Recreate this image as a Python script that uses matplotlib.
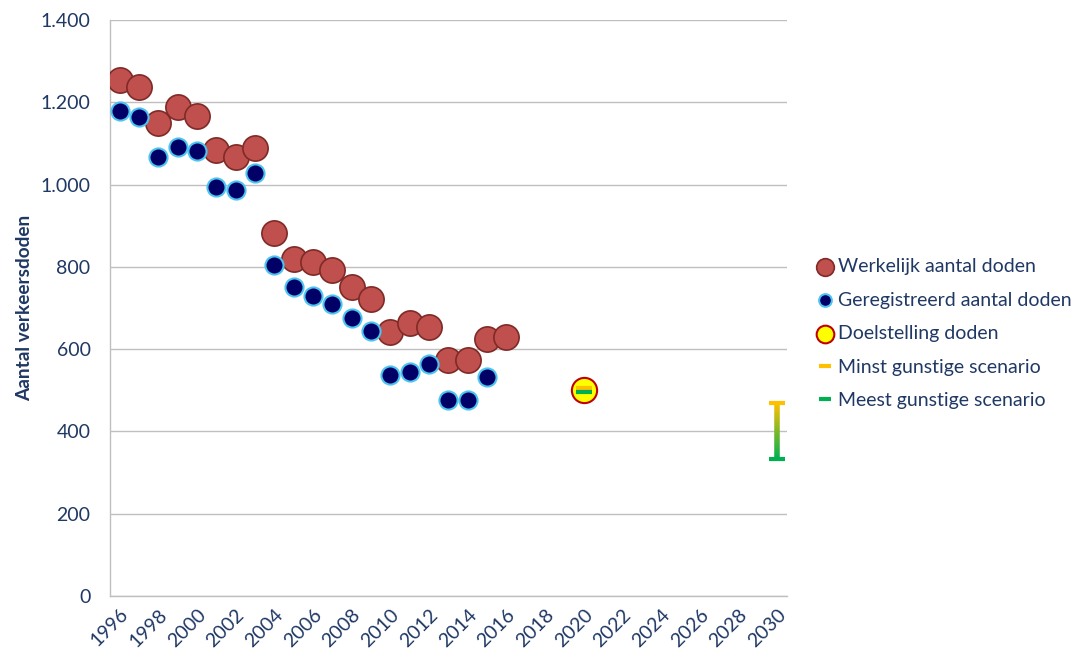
import numpy as np
import matplotlib
matplotlib.use("Agg")
import matplotlib.pyplot as plt
from matplotlib.collections import LineCollection
from matplotlib.colors import LinearSegmentedColormap
from matplotlib.ticker import FuncFormatter, MultipleLocator
from matplotlib.transforms import ScaledTranslation

# Data
jaren_werkelijk = list(range(1996, 2017))
werkelijk = [1254, 1237, 1150, 1189, 1167, 1084, 1067, 1089, 882, 819,
             812, 792, 751, 722, 642, 664, 654, 574, 574, 625, 630]
jaren_geregistreerd = list(range(1996, 2016))
geregistreerd = [1179, 1164, 1067, 1091, 1082, 994, 987, 1028, 805, 751,
                 729, 710, 676, 644, 537, 545, 564, 476, 476, 532]
doel_jaar = [2020]
doel = [500]
scenario_jaar = [2020, 2030]
minst_gunstig = [500, 470]
meest_gunstig = [500, 333]

NAVY = "#1F3864"
RED = "#C0504D"
DARKBLUE = "#000066"
YELLOW = "#FFFF00"
ORANGE = "#FFC000"
GREEN = "#00B050"
GRID = "#BFBFBF"

plt.rcParams["font.family"] = ["Lato", "DejaVu Sans"]

fig = plt.figure(figsize=(10.71, 6.5), dpi=100)
ax = fig.add_axes([0.1027, 0.0831, 0.632, 0.8859])

ax.scatter(jaren_werkelijk, werkelijk, s=330, color=RED, edgecolors="#7F2A27",
           linewidths=1.2, zorder=3, label="Werkelijk aantal doden")
ax.scatter(jaren_geregistreerd, geregistreerd, s=170, color=DARKBLUE,
           edgecolors="#4DC3F0", linewidths=1.5, zorder=4,
           label="Geregistreerd aantal doden")
ax.scatter(doel_jaar, doel, s=330, color=YELLOW, edgecolors="#C00000",
           linewidths=1.5, zorder=3, label="Doelstelling doden")

# scenario's 2020 (binnen de doelstelling-marker)
up = ax.transData + ScaledTranslation(0, 2 / 72, fig.dpi_scale_trans)
down = ax.transData + ScaledTranslation(0, -1 / 72, fig.dpi_scale_trans)
ax.plot(scenario_jaar[:1], minst_gunstig[:1], marker="_", ms=12, mew=3,
        color=ORANGE, ls="none", zorder=5, label="Minst gunstige scenario",
        transform=up)
ax.plot(scenario_jaar[:1], meest_gunstig[:1], marker="_", ms=12, mew=3,
        color=GREEN, ls="none", zorder=5, label="Meest gunstige scenario",
        transform=down)

# bandbreedte 2030 met kleurverloop
cmap = LinearSegmentedColormap.from_list("scen", [GREEN, ORANGE])
ys = np.linspace(meest_gunstig[1], minst_gunstig[1], 60)
xs = np.full_like(ys, scenario_jaar[1], dtype=float)
pts = np.column_stack([xs, ys]).reshape(-1, 1, 2)
segs = np.concatenate([pts[:-1], pts[1:]], axis=1)
lc = LineCollection(segs, cmap=cmap, linewidths=4, zorder=3)
lc.set_array(np.linspace(0, 1, len(segs)))
ax.add_collection(lc)
ax.plot(scenario_jaar[1], minst_gunstig[1], marker="_", ms=11, mew=3, color=ORANGE, zorder=4)
ax.plot(scenario_jaar[1], meest_gunstig[1], marker="_", ms=11, mew=3, color=GREEN, zorder=4)

ax.set_xlim(1995.5, 2030.5)
ax.set_ylim(0, 1400)
ax.yaxis.set_major_locator(MultipleLocator(200))
ax.yaxis.set_major_formatter(FuncFormatter(lambda v, _: f"{int(v):,}".replace(",", ".")))
ax.set_xticks(range(1996, 2031, 2))
plt.setp(ax.get_xticklabels(), rotation=45, ha="right", rotation_mode="anchor")

ax.tick_params(axis="y", length=0, labelsize=14, labelcolor=NAVY, pad=14)
ax.tick_params(axis="x", length=0, labelsize=14, labelcolor=NAVY, pad=7)
ax.grid(axis="y", color=GRID, lw=1)
ax.set_axisbelow(True)
for side in ["top", "right"]:
    ax.spines[side].set_visible(False)
for side in ["left", "bottom"]:
    ax.spines[side].set_color(GRID)
    ax.spines[side].set_linewidth(1)

ax.set_ylabel("Aantal verkeersdoden", fontsize=13.7, fontweight="bold", color=NAVY, labelpad=5)

handles, labels = ax.get_legend_handles_labels()
leg = fig.legend(handles, labels, loc="upper left", bbox_to_anchor=(0.744, 0.63),
                 frameon=False, fontsize=14, labelspacing=0.85, handletextpad=0.1,
                 handlelength=1.1, markerscale=0.7)
for t in leg.get_texts():
    t.set_color(NAVY)

fig.savefig("out.png", dpi=100)
